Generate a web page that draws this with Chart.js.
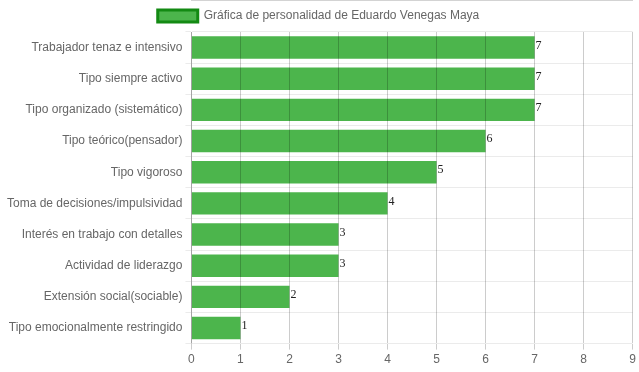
<!DOCTYPE html>
<html>
<head>
<meta charset="utf-8">
<script src="https://cdn.jsdelivr.net/npm/chart.js@4"></script>
<style>
  html, body { margin: 0; padding: 0; background: #fff; }
</style>
</head>
<body>
<canvas id="bar-chart" width="639" height="372"></canvas>
<script>
const categories = [
  "Trabajador tenaz e intensivo",
  "Tipo siempre activo",
  "Tipo organizado (sistemático)",
  "Tipo teórico(pensador)",
  "Tipo vigoroso",
  "Toma de decisiones/impulsividad",
  "Interés en trabajo con detalles",
  "Actividad de liderazgo",
  "Extensión social(sociable)",
  "Tipo emocionalmente restringido"
];
const scores = [7, 7, 7, 6, 5, 4, 3, 3, 2, 1];
const seriesName = "Gráfica de personalidad de Eduardo Venegas Maya";

// writes the number at the end of each bar
const valueLabels = {
  id: "valueLabels",
  afterDatasetsDraw(chart) {
    const ctx = chart.ctx;
    ctx.save();
    ctx.font = "12px 'Liberation Serif', serif";
    ctx.fillStyle = "#222";
    ctx.textAlign = "left";
    ctx.textBaseline = "middle";
    chart.getDatasetMeta(0).data.forEach((bar, i) => {
      ctx.fillText(scores[i], bar.x + 1, bar.y - 2);
    });
    ctx.restore();
  }
};

Chart.defaults.font.family = "'Liberation Sans', Arial, sans-serif";
Chart.defaults.font.size = 12;
Chart.defaults.color = "#666";

let ctx = document.getElementById("bar-chart").getContext("2d");
window.myBar = new Chart(ctx, {
  type: "bar",
  data: {
    labels: categories,
    datasets: [{
      label: seriesName,
      data: scores,
      backgroundColor: "#4cb54c",
      borderColor: "#138a13",
      borderWidth: 0
    }]
  },
  options: {
    indexAxis: "y",
    responsive: false,
    animation: false,
    layout: { padding: { left: 4, right: 6, top: 0, bottom: 2 } },
    plugins: {
      legend: {
        labels: {
          boxWidth: 40,
          boxHeight: 12,
          padding: 10,
          generateLabels(chart) {
            const ds = chart.data.datasets[0];
            return [{
              text: ds.label,
              fillStyle: "#4cb54c",
              strokeStyle: "#138a13",
              lineWidth: 3,
              fontColor: "#666",
              datasetIndex: 0
            }];
          }
        }
      },
      tooltip: { enabled: false }
    },
    scales: {
      x: {
        min: 0,
        max: 9,
        ticks: { stepSize: 1, color: "#666" },
        grid: { color: "rgba(0,0,0,0.2)", z: 1, tickLength: 6 },
        border: { color: "rgba(0,0,0,0.35)" }
      },
      y: {
        ticks: { color: "#666" },
        grid: { color: "rgba(0,0,0,0.08)", tickLength: 6 },
        border: { color: "rgba(0,0,0,0.2)" }
      }
    }
  },
  plugins: [valueLabels]
});
</script>
</body>
</html>
